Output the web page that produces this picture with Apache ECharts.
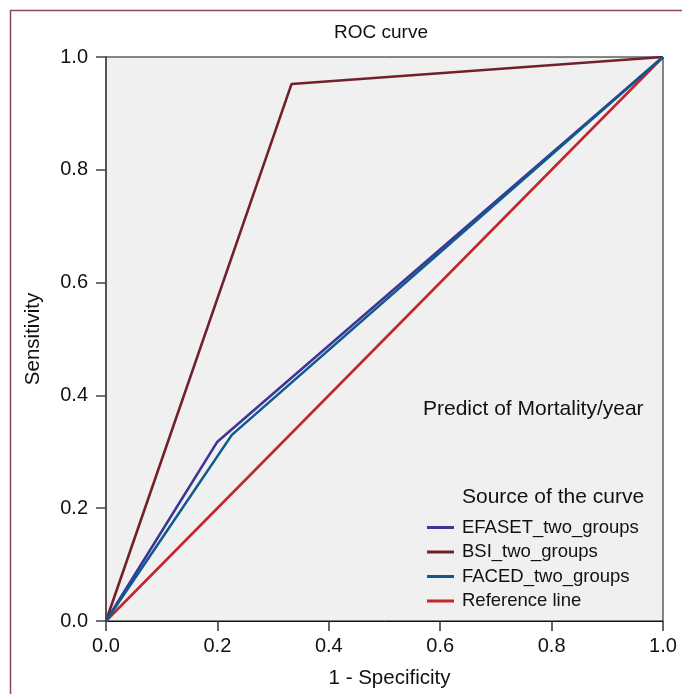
<!DOCTYPE html>
<html>
<head>
<meta charset="utf-8">
<script src="https://cdn.jsdelivr.net/npm/echarts@6/dist/echarts.min.js"></script>
<style>html,body{margin:0;padding:0;background:#fff;}#c{width:682px;height:694px;}</style>
</head>
<body>
<div id="c"></div>
<script>
const seriesNames = ['EFASET_two_groups', 'BSI_two_groups', 'FACED_two_groups', 'Reference line'];
const efaset = [[0, 0], [0.2, 0.318], [1, 1]];
const bsi = [[0, 0], [0.333, 0.952], [1, 1]];
const faced = [[0, 0], [0.226, 0.33], [1, 1]];
const reference = [[0, 0], [1, 1]];
const axisTicks = [0, 0.2, 0.4, 0.6, 0.8, 1.0];

const colors = {
  'EFASET_two_groups': '#3f3598',
  'BSI_two_groups': '#74202c',
  'FACED_two_groups': '#0f5a8c',
  'Reference line': '#c1272d'
};
const FONT = 'Liberation Sans, Arial, sans-serif';

const chart = echarts.init(document.getElementById('c'), null, {renderer: 'canvas'});
function mk(name, data, z) {
  return {
    name: name, type: 'line', data: data, symbol: 'none', z: z,
    lineStyle: {color: colors[name], width: 2.6},
    itemStyle: {color: colors[name]}
  };
}
chart.setOption({
  animation: false,
  backgroundColor: '#fff',
  textStyle: {fontFamily: FONT},
  grid: {
    left: 106, top: 57, right: 19, bottom: 73, show: true,
    backgroundColor: '#f0f0f0', borderColor: '#111', borderWidth: 1
  },
  xAxis: {
    type: 'value', min: 0, max: 1, interval: 0.2,
    name: '1 - Specificity', nameLocation: 'middle', nameGap: 47,
    nameTextStyle: {fontFamily: FONT, fontSize: 20.5, color: '#111', padding: [0, 0, 0, 10]},
    axisLine: {show: true, lineStyle: {color: '#111', width: 1}},
    axisTick: {show: true, length: 10, lineStyle: {color: '#333', width: 1.5}},
    axisLabel: {fontFamily: FONT, fontSize: 20, color: '#111', margin: 15,
      formatter: v => v.toFixed(1)},
    splitLine: {show: false}
  },
  yAxis: {
    type: 'value', min: 0, max: 1, interval: 0.2,
    name: 'Sensitivity', nameLocation: 'middle', nameGap: 62.5, nameRotate: 90,
    nameTextStyle: {fontFamily: FONT, fontSize: 20.5, color: '#111'},
    axisLine: {show: true, lineStyle: {color: '#555', width: 2}},
    axisTick: {show: true, length: 10, lineStyle: {color: '#444', width: 1.5}},
    axisLabel: {fontFamily: FONT, fontSize: 20, color: '#111', margin: 18,
      formatter: v => v.toFixed(1)},
    splitLine: {show: false}
  },
  legend: {
    data: seriesNames, orient: 'vertical', left: 427, top: 518,
    icon: 'rect', itemWidth: 27, itemHeight: 3, itemGap: 5.5,
    textStyle: {fontFamily: FONT, fontSize: 18.5, color: '#111', padding: [0, 0, 0, 3]},
    padding: 0
  },
  graphic: [
    {type: 'rect', left: 8, top: 8, shape: {x: 0, y: 0, width: 720, height: 720},
      style: {fill: 'none', stroke: '#8c4a56', lineWidth: 1.5}, silent: true},
    {type: 'text', x: 381, y: 33,
      style: {text: 'ROC curve', font: '19px ' + FONT, fill: '#111',
        textAlign: 'center', textVerticalAlign: 'middle'}},
    {type: 'text', left: 423, top: 399,
      style: {text: 'Predict of Mortality/year', font: '21px ' + FONT, fill: '#111'}},
    {type: 'text', left: 462, top: 487,
      style: {text: 'Source of the curve', font: '21px ' + FONT, fill: '#111'}}
  ],
  series: [
    mk('Reference line', reference, 1),
    mk('BSI_two_groups', bsi, 2),
    mk('EFASET_two_groups', efaset, 3),
    mk('FACED_two_groups', faced, 4)
  ]
});
</script>
</body>
</html>
